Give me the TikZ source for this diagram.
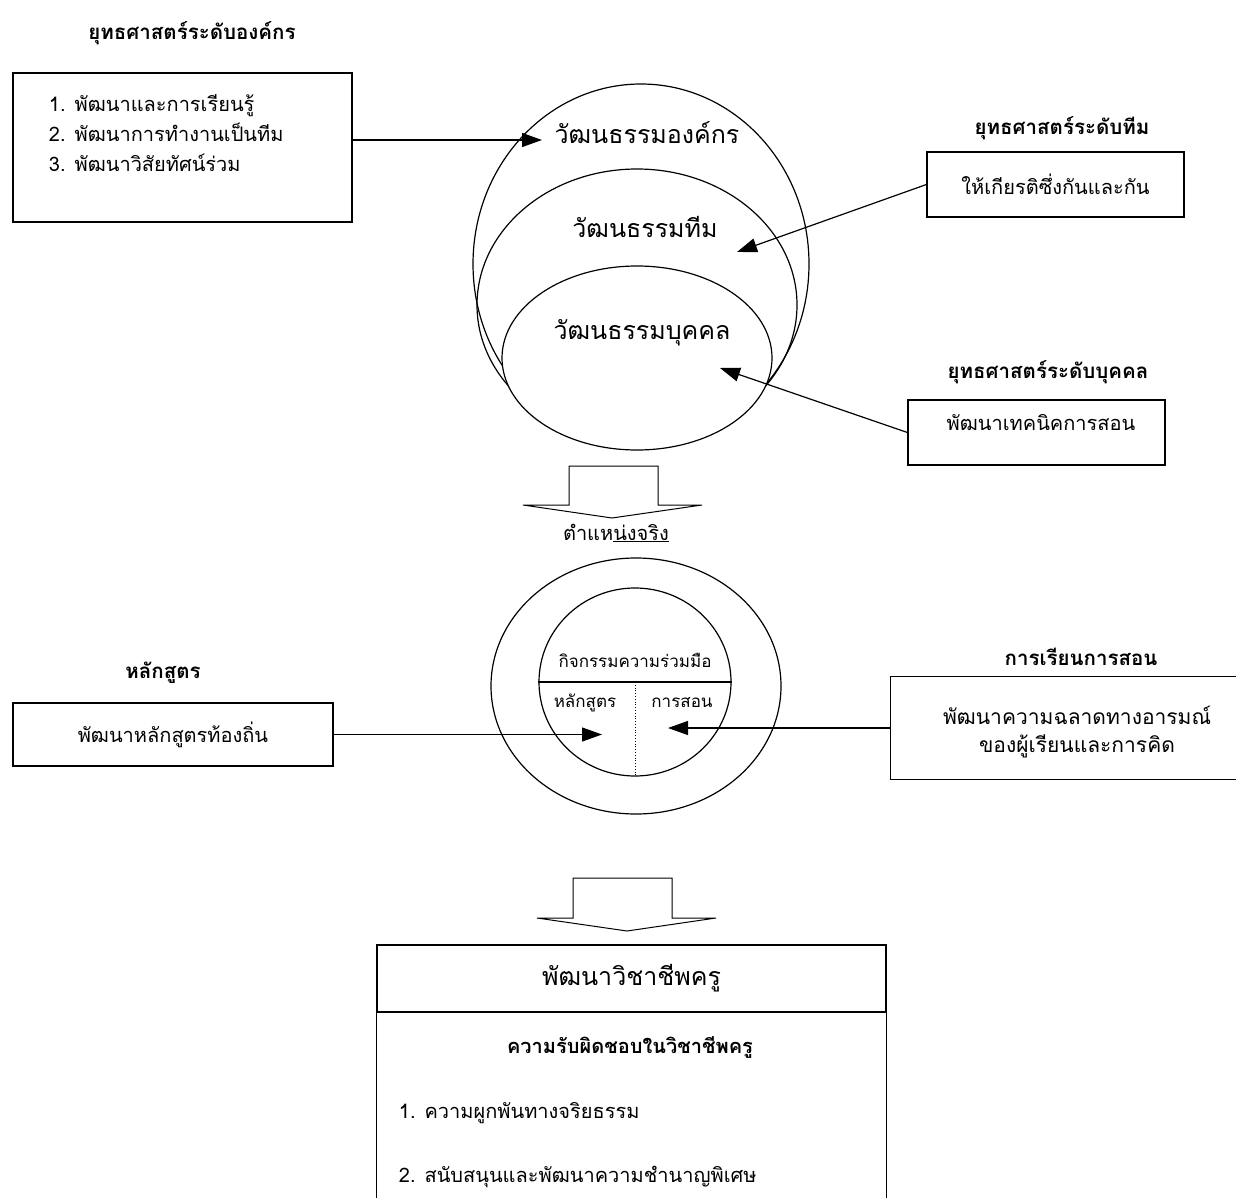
\documentclass[tikz,border=0pt]{standalone}
\usepackage{fontspec}
\setmainfont[Script=Thai]{Loma}
\usepackage{tikz}
\usetikzlibrary{arrows.meta,shapes.geometric}

\begin{document}
\begin{tikzpicture}[x=1pt, y=-1pt, line width=1.2pt,
  box/.style={draw, rectangle, inner sep=0pt},
  lbl/.style={font=\fontsize{20.5}{24}\selectfont\bfseries},
  bigtxt/.style={font=\fontsize{25}{28}\selectfont},
  boxtxt/.style={font=\fontsize{20}{24}\selectfont},
  smalltxt/.style={font=\fontsize{17}{20}\selectfont},
  link/.style={-{Triangle[length=20pt,width=14pt]}},
  fat/.style={draw, line width=1pt, fill=white}]
  \useasboundingbox (0,0) rectangle (1236,1198);

  \node [lbl] (orglbl) at (192,33) {ยุทธศาสตร์ระดับองค์กร};
  \node [box, minimum width=339pt, minimum height=149pt] (orgbox) at (182.5,147.5) {};
  \node [boxtxt, anchor=west, align=left] (orgtxt) at (45,133)
    {1. พัฒนาและการเรียนรู้\\[6pt] 2. พัฒนาการทำงานเป็นทีม\\[6pt] 3. พัฒนาวิสัยทัศน์ร่วม};

  \node [draw, ellipse, inner sep=0pt, minimum width=336pt, minimum height=360pt] (orgcirc) at (641,264) {};
  \node [draw, ellipse, inner sep=0pt, minimum width=320pt, minimum height=272pt] (teamcirc) at (637,305) {};
  \node [draw, ellipse, fill=white, inner sep=0pt, minimum width=270pt, minimum height=184pt] (indcirc) at (637,358) {};
  \node [bigtxt] (orgname) at (647,133) {วัฒนธรรมองค์กร};
  \node [bigtxt] (teamname) at (645,227) {วัฒนธรรมทีม};
  \node [bigtxt] (indname) at (642,333) {วัฒนธรรมบุคคล};

  \node [lbl] (teamlbl) at (1062,128) {ยุทธศาสตร์ระดับทีม};
  \node [box, boxtxt, minimum width=257pt, minimum height=65pt] (teambox) at (1055.5,184.5) {ให้เกียรติซึ่งกันและกัน};
  \node [lbl] (indlbl) at (1048,372) {ยุทธศาสตร์ระดับบุคคล};
  \node [box, minimum width=257pt, minimum height=65pt] (indbox) at (1036.5,432.5) {};
  \node [boxtxt] (indtxt) at (1041,423) {พัฒนาเทคนิคการสอน};

  \coordinate (orgtip) at (542,140);
  \coordinate (teamtip) at (737,252);
  \coordinate (indtip) at (720,368);
  \draw [link] ([yshift=7.5pt]orgbox.east) -- (orgtip);
  \draw [link] (teambox.west) -- (teamtip);
  \draw [link] (indbox.west) -- (indtip);

  \draw [fat] (569,466) -- (658,466) -- (658,505) -- (702,505) -- (612,518)
    -- (523,505) -- (569,505) -- cycle;

  \node [boxtxt] (poslbl) at (616,533) {ตำแห\underline{น่งจริง}};
  \node [draw, ellipse, inner sep=0pt, minimum width=290pt, minimum height=256pt] (ring) at (636,686) {};
  \node [draw, ellipse, inner sep=0pt, minimum width=192pt, minimum height=188pt] (core) at (635,682) {};
  \draw (core.west) -- (core.east);
  \draw [dotted, line width=0.8pt] (core.center) -- (core.south);
  \node [smalltxt] (coop) at (635,660) {กิจกรรมความร่วมมือ};
  \node [smalltxt] (currin) at (585,703) {หลักสูตร};
  \node [smalltxt] (teachin) at (682,703) {การสอน};

  \node [lbl] (currlbl) at (163,673) {หลักสูตร};
  \node [box, boxtxt, minimum width=320pt, minimum height=63pt] (currbox) at (173,734.5) {พัฒนาหลักสูตรท้องถิ่น};
  \node [lbl] (teachlbl) at (1081,657) {การเรียนการสอน};
  \node [minimum width=345pt, minimum height=102pt, inner sep=0pt] (teachbox) at (1063.5,728) {};
  \draw (teachbox.north east) -- (teachbox.north west) -- (teachbox.south west) -- (teachbox.south east);
  \node [boxtxt, align=center, font=\fontsize{21}{24}\selectfont] (teachtxt) at (1077,732) {พัฒนาความฉลาดทางอารมณ์\\[4pt] ของผู้เรียนและการคิด};

  \coordinate (currtip) at (602,734.5);
  \coordinate (teachtip) at (668,728);
  \draw [link] (currbox.east) -- (currtip);
  \draw [link] (teachbox.west) -- (teachtip);

  \draw [fat] (573,878) -- (672,878) -- (672,918) -- (716,918) -- (627,931)
    -- (537,918) -- (573,918) -- cycle;

  \node [box, line width=1.6pt, bigtxt, minimum width=509pt, minimum height=67pt] (planhead) at (631.5,978.5) {พัฒนาวิชาชีพครู};
  \node [minimum width=509pt, minimum height=186pt, inner sep=0pt] (planbody) at (631.5,1105) {};
  \draw (planbody.north west) -- (planbody.south west);
  \draw (planbody.north east) -- (planbody.south east);
  \node [font=\fontsize{20}{24}\selectfont\bfseries] (duty) at (630,1047) {ความรับผิดชอบในวิชาชีพครู};
  \node [boxtxt, anchor=west] (item1) at (395,1113) {1. ความผูกพันทางจริยธรรม};
  \node [boxtxt, anchor=west] (item2) at (395,1177) {2. สนับสนุนและพัฒนาความชำนาญพิเศษ};
\end{tikzpicture}
\end{document}
